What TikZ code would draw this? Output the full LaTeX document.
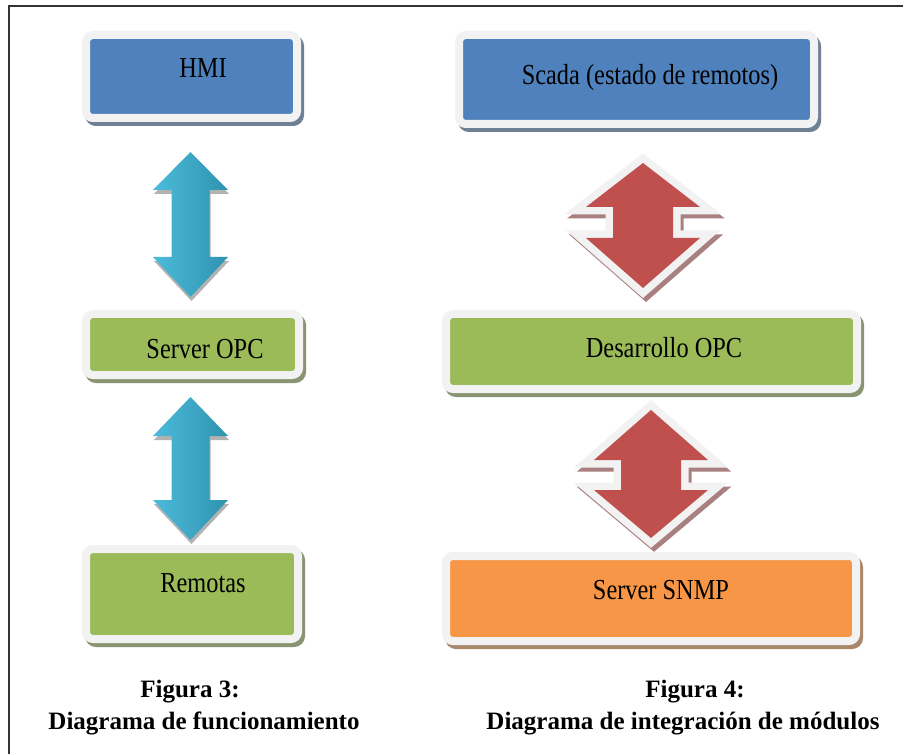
\documentclass[tikz,border=0pt]{standalone}
\usepackage{fontspec}
\setmainfont{Liberation Serif}
\newfontfamily\boxfont[FakeStretch=0.84]{Liberation Serif}

\definecolor{hmiblue}{HTML}{4F81BD}
\definecolor{opcgreen}{HTML}{9BBB59}
\definecolor{snmporange}{HTML}{F79646}
\definecolor{arrowred}{HTML}{C0504D}
\definecolor{redshadow}{HTML}{A88080}
\definecolor{cyanleft}{HTML}{4CBBDA}
\definecolor{cyanright}{HTML}{2E93B0}
\definecolor{framegray}{HTML}{F2F2F2}

% double block arrow: style, x centre, tip, head base, head base, tip, head half width, shaft half width
\newcommand{\dblarrow}[8]{%
  \path[#1] (#2,#3) -- ({#2+#7},#4) -- ({#2+#8},#4) -- ({#2+#8},#5) -- ({#2+#7},#5)
    -- (#2,#6) -- ({#2-#7},#5) -- ({#2-#8},#5) -- ({#2-#8},#4) -- ({#2-#7},#4) -- cycle;}

\tikzset{
  modbox/.style={rounded corners=7pt, fill=#1, draw=framegray, line width=8pt,
    inner sep=0pt,
    preaction={draw=#1!35!gray, line width=8pt, transform canvas={xshift=3pt,yshift=-4pt}}},
  boxtext/.style={font=\boxfont\fontsize{29}{34}\selectfont, inner sep=0pt, anchor=base},
  captext/.style={font=\fontsize{25}{30}\selectfont\bfseries, inner sep=0pt, anchor=base},
  redshade/.style={draw=redshadow, fill=redshadow, line width=15pt, miter limit=20, shift={(3,4)}},
  redrim/.style={draw=framegray, line width=15pt, miter limit=20},
}

\begin{document}
\begin{tikzpicture}[x=1pt,y=-1pt]
\useasboundingbox[fill=white] (0,0) rectangle (903,754);
% frame
\draw[line width=1.5pt, black!80] (9,754) -- (9,6) -- (903,6);

% Figura 3 boxes
\node[modbox=hmiblue, minimum width=211pt, minimum height=83pt] (hmi) at (191.5,76.5) {};
\node[modbox=opcgreen, minimum width=213pt, minimum height=61pt] (opc) at (192.5,344.5) {};
\node[modbox=opcgreen, minimum width=212pt, minimum height=90pt] (rem) at (192,594) {};
\node[boxtext] (hmitxt) at (203,78) {HMI};
\node[boxtext] (opctxt) at (205,359) {Server OPC};
\node[boxtext] (remtxt) at (203,592) {Remotas};

% Figura 3 arrows
\dblarrow{fill=black, opacity=0.3, shift={(1,4)}}{190.5}{152}{190}{257}{297}{37.5}{19}
\dblarrow{left color=cyanleft, right color=cyanright}{190.5}{152}{190}{257}{297}{37.5}{19}
\dblarrow{fill=black, opacity=0.3, shift={(1,4)}}{190.5}{397}{436}{500}{540}{37.5}{19}
\dblarrow{left color=cyanleft, right color=cyanright}{190.5}{397}{436}{500}{540}{37.5}{19}

% Figura 4 boxes
\node[modbox=hmiblue, minimum width=355pt, minimum height=89pt] (scada) at (636.5,79.5) {};
\node[modbox=opcgreen, minimum width=411pt, minimum height=75pt] (des) at (651.5,351.5) {};
\node[modbox=snmporange, minimum width=410pt, minimum height=85pt] (snmp) at (651,598.5) {};
\node[boxtext] (scadatxt) at (650,85) {Scada (estado de remotos)};
\node[boxtext] (destxt) at (664,357) {Desarrollo OPC};
\node[boxtext] (snmptxt) at (661,599) {Server SNMP};

% Figura 4 arrows (shadow, white rim, red body)
\dblarrow{redshade}{643}{163}{207}{238}{288}{57}{30}
\dblarrow{redrim}{643}{163}{207}{238}{288}{57}{30}
\dblarrow{fill=arrowred}{643}{163}{207}{238}{288}{57}{30}
\dblarrow{redshade}{651}{410}{460}{490}{538}{57}{30}
\dblarrow{redrim}{651}{410}{460}{490}{538}{57}{30}
\dblarrow{fill=arrowred}{651}{410}{460}{490}{538}{57}{30}

% captions
\node[captext] (cap3a) at (190,697) {Figura 3:};
\node[captext] (cap3b) at (204,729) {Diagrama de funcionamiento};
\node[captext] (cap4a) at (695,697) {Figura 4:};
\node[captext] (cap4b) at (683,729) {Diagrama de integración de módulos};
\end{tikzpicture}
\end{document}
